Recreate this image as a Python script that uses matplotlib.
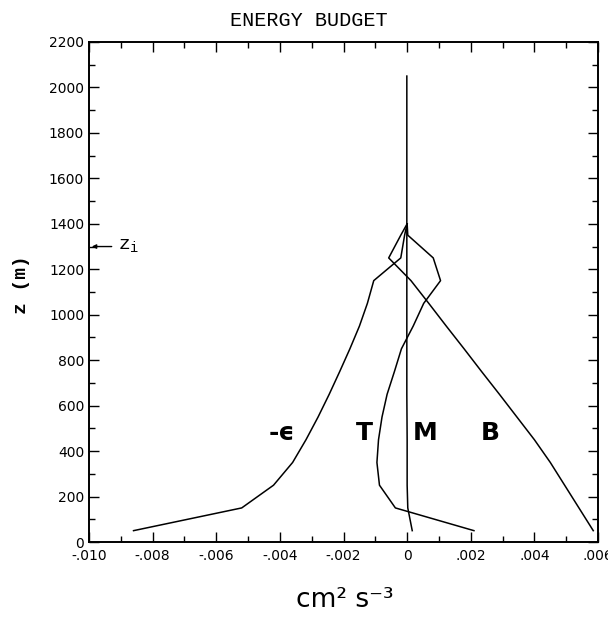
import matplotlib.pyplot as plt
from matplotlib.ticker import MultipleLocator, FuncFormatter

# height levels (m)
z = [50, 150, 250, 350, 450, 550, 650, 750, 850, 950, 1050, 1150, 1250, 1350, 1400]

# budget terms (cm^2 s^-3)
eps = [-0.0086, -0.0052, -0.0042, -0.0036, -0.00318, -0.0028, -0.00245, -0.00212,
       -0.0018, -0.0015, -0.00125, -0.00105, -0.0002, -0.00008, 0.0]
trans = [0.0021, -0.00037, -0.00087, -0.00095, -0.0009, -0.00079, -0.00063, -0.0004,
         -0.00018, 0.00019, 0.00052, 0.00105, 0.00082, 0.00002, 0.0]
buoy = [0.00585, 0.0054, 0.00495, 0.0045, 0.0040, 0.00345, 0.0029, 0.00234,
        0.00179, 0.00123, 0.00068, 0.00012, -0.00058, -0.0002, 0.0]

z_m = [50, 150, 250, 450, 650, 850, 1050, 1250, 1450, 1650, 1850, 2050]
mech = [0.00016, 0.00002, 0.0, 0.0, -0.00001, -0.00001, -0.00001, -0.00001,
        -0.00001, -0.00001, -0.00001, -0.00001]

zi = 1300

fig = plt.figure(figsize=(6.08, 6.4), dpi=100)
ax = fig.add_axes([0.1464, 0.1531, 0.8372, 0.7813])

for xs, zs in [(eps, z), (trans, z), (buoy, z), (mech, z_m)]:
    ax.plot(xs, zs, color="black", linewidth=1.1)

ax.set_xlim(-0.010, 0.006)
ax.set_ylim(0, 2200)

ax.xaxis.set_major_locator(MultipleLocator(0.002))
ax.xaxis.set_minor_locator(MultipleLocator(0.001))
ax.yaxis.set_major_locator(MultipleLocator(200))
ax.yaxis.set_minor_locator(MultipleLocator(100))


def xfmt(v, pos):
    if abs(v) < 1e-9:
        return "0"
    s = "%.3f" % v
    return s.replace("0.", ".", 1)


ax.xaxis.set_major_formatter(FuncFormatter(xfmt))
ax.yaxis.set_major_formatter(FuncFormatter(lambda v, p: "%d" % v))

ax.tick_params(which="both", direction="in", top=True, right=True,
               labelsize=10, width=1.0)
ax.tick_params(axis="x", pad=5)
ax.tick_params(which="major", length=7)
ax.tick_params(which="minor", length=4)
for sp in ax.spines.values():
    sp.set_linewidth(1.4)

# curve labels
lab_kw = dict(fontsize=18, fontweight="bold", ha="center", va="center",
              family="DejaVu Sans")
ax.text(-0.00395, 480, "-\u03f5", **lab_kw)
ax.text(-0.00133, 480, "T", **lab_kw)
ax.text(0.00055, 480, "M", **lab_kw)
ax.text(0.00262, 480, "B", **lab_kw)

# inversion height marker
ax.annotate("", xy=(-0.010, zi), xytext=(-0.0092, zi),
            arrowprops=dict(arrowstyle="-|>", color="black", lw=1.0,
                            mutation_scale=6),
            annotation_clip=False)
ax.text(-0.0091, zi, r"z$_\mathregular{i}$", fontsize=14, family="Liberation Mono",
        ha="left", va="center")

fig.text(0.508, 0.968, "ENERGY BUDGET", fontsize=14.5, family="Liberation Mono",
         ha="center", va="center")
fig.text(0.036, 0.555, "z (m)", fontsize=14, family="Liberation Mono",
         fontweight="bold", rotation=90, ha="center", va="center")
fig.text(0.567, 0.062, "cm\u00b2 s\u207b\u00b3", fontsize=19,
         family="DejaVu Sans", ha="center", va="center")

fig.savefig("out.png", dpi=100)
